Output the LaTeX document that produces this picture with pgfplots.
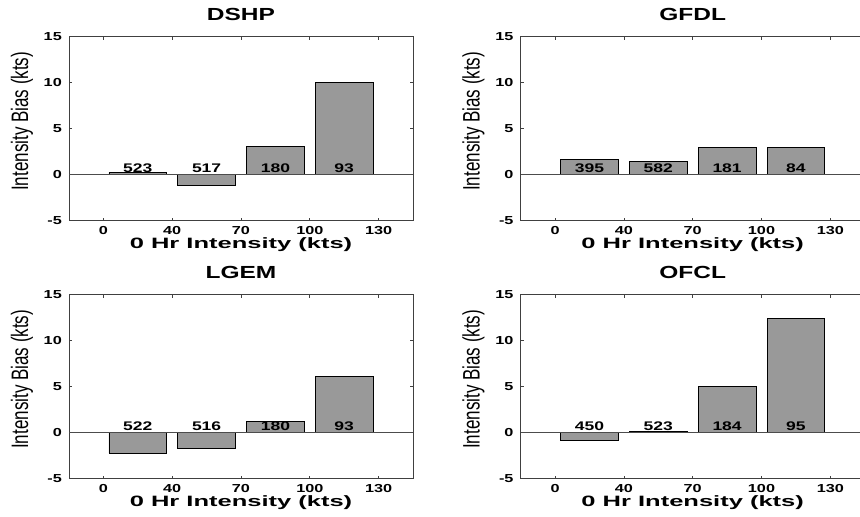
\documentclass[border=0pt]{standalone}
\usepackage{pgfplots}
\usepackage{pgfplotstable}
\pgfplotsset{compat=1.18}
\usepackage{fontspec}
\setmainfont{Liberation Sans}[FakeStretch=1.4]
\newfontfamily\ylabfont{Liberation Sans}
\newfontfamily\xlabfont{Liberation Sans}[FakeStretch=1.7]

% x = bin centre, b = intensity bias (kts), n = number of cases, ly = label height
\pgfplotstableread{
x   b     n    ly
0.5 0.25  523  0.2
1.5 -1.16 517  0.2
2.5 3.1   180  0.2
3.5 10.0  93   0.2
}\dshp
\pgfplotstableread{
x   b     n    ly
0.5 1.65  395  0.2
1.5 1.4   582  0.2
2.5 3.0   181  0.2
3.5 3.0   84   0.2
}\gfdl
\pgfplotstableread{
x   b     n    ly
0.5 -2.2  522  0.2
1.5 -1.65 516  0.2
2.5 1.25  180  0.2
3.5 6.1   93   0.2
}\lgem
\pgfplotstableread{
x   b     n    ly
0.5 -0.85 450  0.2
1.5 0.15  523  0.2
2.5 5.0   184  0.2
3.5 12.45 95   0.2
}\ofcl

\pgfplotsset{
  panel/.style={
    scale only axis, width=344pt, height=184pt,
    xmin=-0.5, xmax=4.5, ymin=-5, ymax=15,
    xtick={0,1,2,3,4}, xticklabels={0,40,70,100,130},
    ytick={-5,0,5,10,15},
    tick align=inside, major tick length=3pt,
    xtick pos=both, ytick pos=both,
    axis line style={black!75, line width=0.7pt},
    tick style={black!75, line width=0.6pt},
    /pgf/number format/assume math mode=true,
    ticklabel style={font=\bfseries\fontsize{11.6}{13}\selectfont},
    xticklabel style={anchor=base, inner sep=0pt, yshift=-13.5pt},
    yticklabel style={anchor=east, inner sep=0pt, xshift=-7pt},
    title style={at={(axis description cs:0.5,1.054)}, anchor=base, inner sep=0pt,
      font=\bfseries\fontsize{17.5}{20}\selectfont},
    xlabel={0 Hr Intensity (kts)},
    xlabel style={at={(axis description cs:0.5,-0.149)}, anchor=base, inner sep=0pt,
      font=\xlabfont\bfseries\fontsize{15}{17}\selectfont},
    ylabel={\scalebox{1}[1.4]{\ylabfont\fontsize{17}{19}\selectfont Intensity Bias (kts)}},
    ylabel style={at={(axis description cs:-0.137,0.54)}, anchor=center, inner sep=0pt},
  },
  bars/.style={ybar, bar width=0.84, fill=black!40, draw=black, line width=0.7pt},
  zero/.style={black!70, line width=0.7pt},
  counts/.style={draw=none, mark=none, nodes near coords, point meta=explicit symbolic,
    nodes near coords style={anchor=base, inner sep=0pt,
      font=\bfseries\fontsize{12.5}{14}\selectfont}},
}

\begin{document}
\begin{tikzpicture}
\useasboundingbox (0,0) rectangle (860pt,517pt);
\clip (0,0) rectangle (860pt,517pt);

\begin{axis}[panel, at={(69pt,296.3pt)}, anchor=south west, title={DSHP}]
  \addplot[bars] table[x=x, y=b] {\dshp};
  \addplot[zero] coordinates {(-0.5,0) (4.5,0)};
  \addplot[counts] table[x=x, y=ly, meta=n] {\dshp};
\end{axis}

\begin{axis}[panel, at={(520.7pt,296.3pt)}, anchor=south west, title={GFDL}]
  \addplot[bars] table[x=x, y=b] {\gfdl};
  \addplot[zero] coordinates {(-0.5,0) (4.5,0)};
  \addplot[counts] table[x=x, y=ly, meta=n] {\gfdl};
\end{axis}

\begin{axis}[panel, at={(69pt,38.3pt)}, anchor=south west, title={LGEM}]
  \addplot[bars] table[x=x, y=b] {\lgem};
  \addplot[zero] coordinates {(-0.5,0) (4.5,0)};
  \addplot[counts] table[x=x, y=ly, meta=n] {\lgem};
\end{axis}

\begin{axis}[panel, at={(520.7pt,38.3pt)}, anchor=south west, title={OFCL}]
  \addplot[bars] table[x=x, y=b] {\ofcl};
  \addplot[zero] coordinates {(-0.5,0) (4.5,0)};
  \addplot[counts] table[x=x, y=ly, meta=n] {\ofcl};
\end{axis}
\end{tikzpicture}
\end{document}
